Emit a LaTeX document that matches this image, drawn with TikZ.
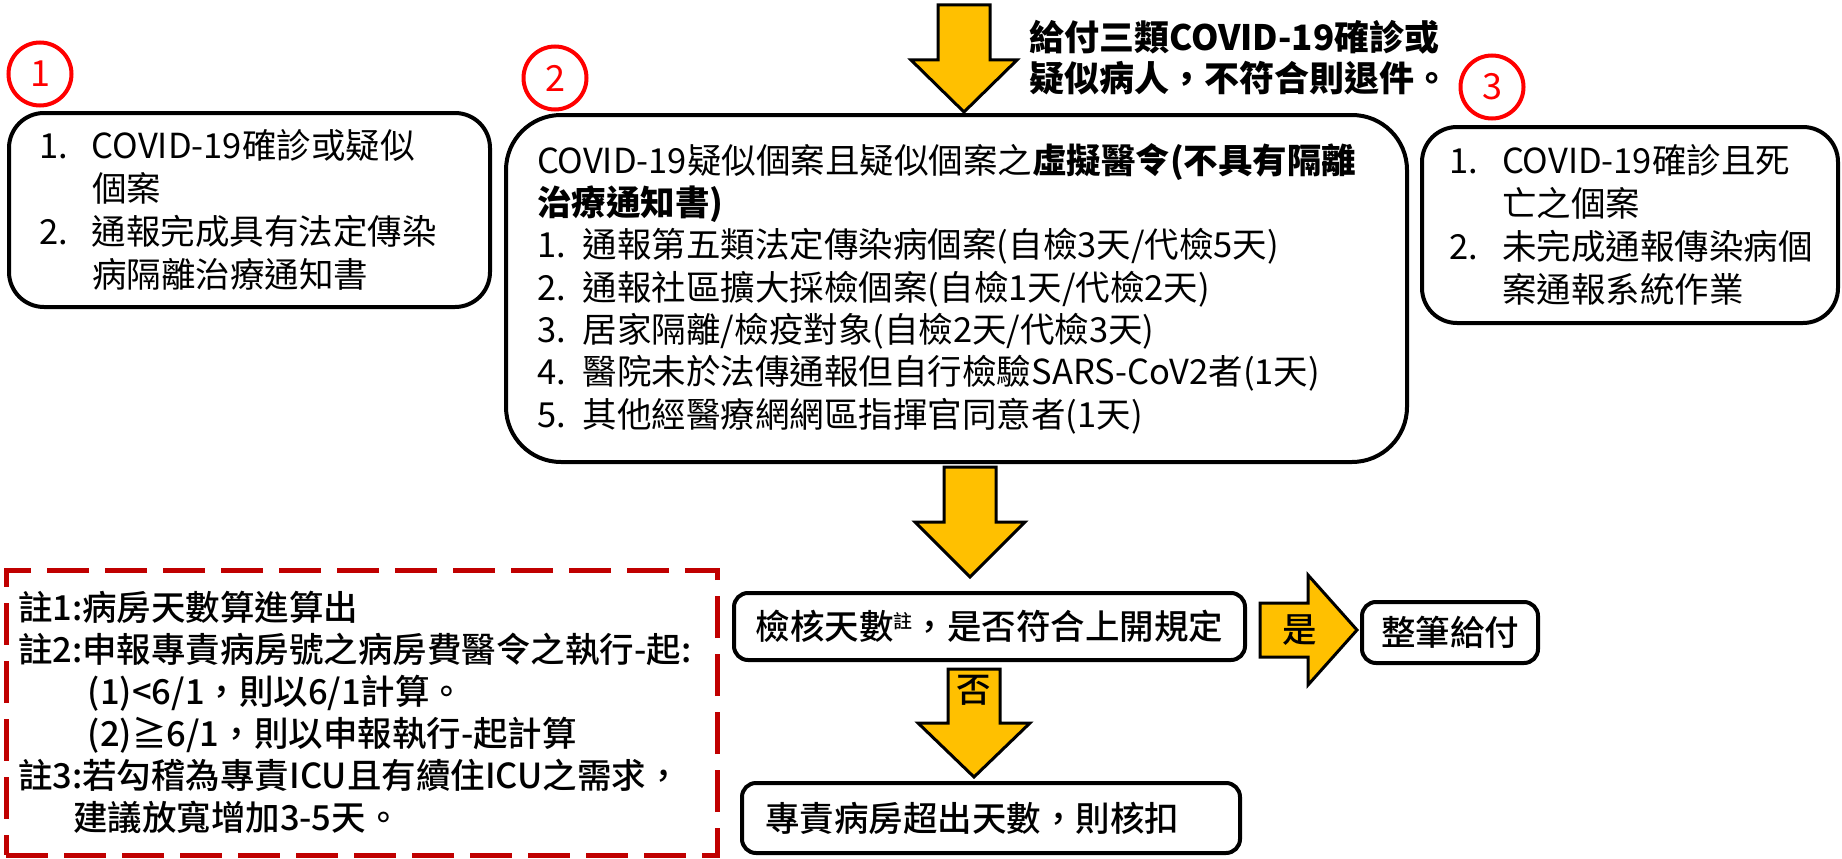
\documentclass[tikz,border=0pt]{standalone}
\usepackage{fontspec}
\setmainfont{Noto Sans CJK TC}
\newfontfamily\medfont{Noto Sans CJK TC Medium}
\usepackage{xcolor}
\usetikzlibrary{positioning}
\definecolor{amber}{HTML}{FFC000}
\definecolor{darkred}{HTML}{C00000}
\definecolor{markred}{HTML}{FF0000}

\begin{document}
\begin{tikzpicture}[x=1pt, y=-1pt,
box/.style={draw, line width=4pt, fill=white, align=left, inner ysep=0pt},
blockarrow/.style={draw, line width=3pt, fill=amber, line join=miter},
badge/.style={circle, draw=markred, line width=4pt, text=markred, minimum size=63pt, inner sep=0pt, font=\fontsize{36}{36}\selectfont},
txt/.style={font=\fontsize{34.5}{43}\selectfont},
boldtxt/.style={font=\medfont\fontsize{34.5}{42}\selectfont}]

\useasboundingbox (0,0) rectangle (1842,859);

\node[badge] (badge1) at (40,74) {1};
\node[badge] (badge2) at (555,78) {2};
\node[badge] (badge3) at (1492,87) {3};

\node[box, txt, rounded corners=35pt, text width=421pt, inner xsep=30pt, minimum height=194pt] (rule1) at (249.5,210) {%
\makebox[53pt][l]{1.}COVID-19確診或疑似\\
\hspace*{53pt}個案\\
\makebox[53pt][l]{2.}通報完成具有法定傳染\\
\hspace*{53pt}病隔離治療通知書};

\node[box, font=\fontsize{34.5}{42.3}\selectfont, rounded corners=55pt, text width=839pt, inner xsep=31pt, minimum height=347pt] (rule2) at (956.5,288.5) {%
COVID-19疑似個案且疑似個案之\textbf{虛擬醫令(不具有隔離}\\
\textbf{治療通知書)}\\
1. 通報第五類法定傳染病個案(自檢3天/代檢5天)\\
2. 通報社區擴大採檢個案(自檢1天/代檢2天)\\
3. 居家隔離/檢疫對象(自檢2天/代檢3天)\\
4. 醫院未於法傳通報但自行檢驗SARS-CoV2者(1天)\\
5. 其他經醫療網網區指揮官同意者(1天)};

\node[box, txt, rounded corners=35pt, text width=362pt, inner xsep=27pt, minimum height=196pt] (rule3) at (1630,225) {%
\makebox[53pt][l]{1.}COVID-19確診且死\\
\hspace*{53pt}亡之個案\\
\makebox[53pt][l]{2.}未完成通報傳染病個\\
\hspace*{53pt}案通報系統作業};

\node[draw=darkred, line width=5pt, dash pattern=on 42pt off 16pt, boldtxt, align=left, text width=687pt, inner xsep=12pt, inner ysep=0pt, minimum height=285pt] (notes) at (361.5,712.5) {%
註1:病房天數算進算出\\
註2:申報專責病房號之病房費醫令之執行-起:\\
\hspace*{70pt}(1)<6/1，則以6/1計算。\\
\hspace*{70pt}(2)≧6/1，則以申報執行-起計算\\
註3:若勾稽為專責ICU且有續住ICU之需求，\\
\hspace*{55pt}建議放寬增加3-5天。};

\node[box, boldtxt, rounded corners=14pt, minimum width=511pt, minimum height=67pt] (check) at (989.5,626.5) {檢核天數{\fontsize{19}{19}\selectfont\raisebox{11pt}{註}}，是否符合上開規定};
\node[box, boldtxt, rounded corners=14pt, minimum width=176pt, minimum height=61pt] (pay) at (1450,632.5) {整筆給付};
\node[box, boldtxt, rounded corners=14pt, text width=452pt, inner xsep=23pt, minimum height=70pt] (loss) at (991,818) {專責病房超出天數，則核扣};

\node[anchor=west, align=left, inner sep=0pt, font=\bfseries\fontsize{35}{41}\selectfont] (feednote) at (1029,57.5) {給付三類COVID-19確診或\\疑似病人，不符合則退件。};

\coordinate (feedtop) at (964,5);
\path (rule2.north) ++(7.5,-1) coordinate (feedtip);
\draw[blockarrow] (feedtop) ++(-26,0) -- ++(52,0) -- ++(0,55) -- ++(27,0) -- (feedtip) -- ++(-53,-52) -- ++(27,0) -- cycle;

\path (rule2.south) ++(13.5,3) coordinate (midtop);
\path (check.north) ++(-19.5,-14) coordinate (midtip);
\draw[blockarrow] (midtop) ++(-26,0) -- ++(52,0) -- ++(0,55) -- ++(29,0) -- (midtip) -- ++(-55,-55) -- ++(29,0) -- cycle;

\path (check.south) ++(-15.5,7) coordinate (notop);
\path (loss.north) ++(-17,-4) coordinate (notip);
\draw[blockarrow] (notop) ++(-26,0) -- ++(52,0) -- ++(0,54) -- ++(30,0) -- (notip) -- ++(-56,-54) -- ++(30,0) -- cycle;
\node[below=6pt of notop, inner sep=0pt, boldtxt] (nolabel) {否};

\path (check.east) ++(13,3.5) coordinate (yesbase);
\path (pay.west) ++(-3,-2.5) coordinate (yestip);
\draw[blockarrow] (yesbase) ++(0,-27) -- ++(48,0) -- ++(0,-28) -- (yestip) -- ++(-49,55) -- ++(0,-28) -- ++(-48,0) -- cycle;
\node[right=22pt of yesbase, inner sep=0pt, boldtxt] (yeslabel) {是};

\end{tikzpicture}
\end{document}
